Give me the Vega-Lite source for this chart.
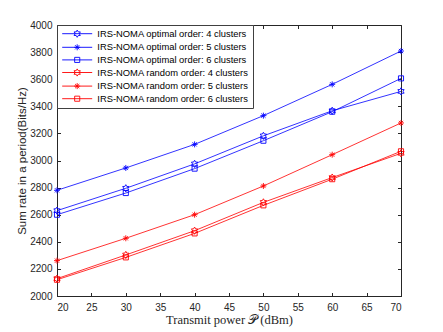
{
  "$schema": "https://vega.github.io/schema/vega-lite/v6.json",
  "width": 344,
  "height": 271,
  "autosize": {"type": "none"},
  "padding": {"left": 57, "top": 25, "right": 42, "bottom": 36},
  "background": "white",
  "config": {
    "view": {"stroke": "#262626", "strokeWidth": 1},
    "font": "Liberation Sans",
    "axis": {
      "grid": false,
      "domainColor": "#262626",
      "tickColor": "#262626",
      "labelColor": "#262626",
      "labelFont": "Liberation Sans",
      "labelFontSize": 10,
      "tickSize": -3.5
    },
    "legend": {
      "orient": "none", "legendX": 0, "legendY": 0,
      "fillColor": "white", "strokeColor": "#404040",
      "padding": 4,
      "labelFont": "Liberation Sans", "labelFontSize": 9.4, "labelColor": "black",
      "symbolSize": 36, "symbolStrokeWidth": 0.9,
      "symbolOffset": 11.5, "labelOffset": 15.4, "rowPadding": 1.6
    }
  },
  "data": {
    "values": [
      {"series": "IRS-NOMA optimal order: 4 clusters", "x": 20, "y": 2630},
      {"series": "IRS-NOMA optimal order: 4 clusters", "x": 30, "y": 2795},
      {"series": "IRS-NOMA optimal order: 4 clusters", "x": 40, "y": 2975},
      {"series": "IRS-NOMA optimal order: 4 clusters", "x": 50, "y": 3182},
      {"series": "IRS-NOMA optimal order: 4 clusters", "x": 60, "y": 3367},
      {"series": "IRS-NOMA optimal order: 4 clusters", "x": 70, "y": 3510},
      {"series": "IRS-NOMA optimal order: 5 clusters", "x": 20, "y": 2780},
      {"series": "IRS-NOMA optimal order: 5 clusters", "x": 30, "y": 2945},
      {"series": "IRS-NOMA optimal order: 5 clusters", "x": 40, "y": 3119},
      {"series": "IRS-NOMA optimal order: 5 clusters", "x": 50, "y": 3331},
      {"series": "IRS-NOMA optimal order: 5 clusters", "x": 60, "y": 3562},
      {"series": "IRS-NOMA optimal order: 5 clusters", "x": 70, "y": 3808},
      {"series": "IRS-NOMA optimal order: 6 clusters", "x": 20, "y": 2600},
      {"series": "IRS-NOMA optimal order: 6 clusters", "x": 30, "y": 2760},
      {"series": "IRS-NOMA optimal order: 6 clusters", "x": 40, "y": 2940},
      {"series": "IRS-NOMA optimal order: 6 clusters", "x": 50, "y": 3146},
      {"series": "IRS-NOMA optimal order: 6 clusters", "x": 60, "y": 3360},
      {"series": "IRS-NOMA optimal order: 6 clusters", "x": 70, "y": 3606},
      {"series": "IRS-NOMA random order: 4 clusters", "x": 20, "y": 2128},
      {"series": "IRS-NOMA random order: 4 clusters", "x": 30, "y": 2303},
      {"series": "IRS-NOMA random order: 4 clusters", "x": 40, "y": 2482},
      {"series": "IRS-NOMA random order: 4 clusters", "x": 50, "y": 2691},
      {"series": "IRS-NOMA random order: 4 clusters", "x": 60, "y": 2874},
      {"series": "IRS-NOMA random order: 4 clusters", "x": 70, "y": 3053},
      {"series": "IRS-NOMA random order: 5 clusters", "x": 20, "y": 2261},
      {"series": "IRS-NOMA random order: 5 clusters", "x": 30, "y": 2426},
      {"series": "IRS-NOMA random order: 5 clusters", "x": 40, "y": 2600},
      {"series": "IRS-NOMA random order: 5 clusters", "x": 50, "y": 2812},
      {"series": "IRS-NOMA random order: 5 clusters", "x": 60, "y": 3043},
      {"series": "IRS-NOMA random order: 5 clusters", "x": 70, "y": 3277},
      {"series": "IRS-NOMA random order: 6 clusters", "x": 20, "y": 2120},
      {"series": "IRS-NOMA random order: 6 clusters", "x": 30, "y": 2285},
      {"series": "IRS-NOMA random order: 6 clusters", "x": 40, "y": 2462},
      {"series": "IRS-NOMA random order: 6 clusters", "x": 50, "y": 2669},
      {"series": "IRS-NOMA random order: 6 clusters", "x": 60, "y": 2862},
      {"series": "IRS-NOMA random order: 6 clusters", "x": 70, "y": 3068}
    ]
  },
  "resolve": {"scale": {"shape": "independent", "color": "independent"}},
  "layer": [
    {
      "mark": {"type": "line", "strokeWidth": 0.8},
      "encoding": {
        "x": {
          "field": "x", "type": "quantitative",
          "scale": {"domain": [20, 70], "nice": false, "zero": false},
          "axis": {
            "orient": "bottom",
            "values": [20, 25, 30, 35, 40, 45, 50, 55, 60, 65, 70],
            "labelPadding": 10,
            "title": "Transmit power 𝒫 (dBm)",
            "titleFont": "Liberation Serif",
            "titleFontSize": 12.5,
            "titleFontWeight": "normal",
            "titleColor": "#262626",
            "titlePadding": 0.5
          }
        },
        "y": {
          "field": "y", "type": "quantitative",
          "scale": {"domain": [2000, 4000], "nice": false, "zero": false},
          "axis": {
            "orient": "left",
            "values": [2000, 2200, 2400, 2600, 2800, 3000, 3200, 3400, 3600, 3800, 4000],
            "format": "d",
            "labelPadding": 8.5,
            "title": "Sum rate in a period(Bits/Hz)",
            "titleFont": "Liberation Sans",
            "titleFontSize": 11.5,
            "titleFontWeight": "normal",
            "titleColor": "#262626",
            "titlePadding": 2.5
          }
        },
        "color": {
          "field": "series", "type": "nominal",
          "scale": {
            "domain": ["IRS-NOMA optimal order: 4 clusters", "IRS-NOMA optimal order: 5 clusters", "IRS-NOMA optimal order: 6 clusters", "IRS-NOMA random order: 4 clusters", "IRS-NOMA random order: 5 clusters", "IRS-NOMA random order: 6 clusters"],
            "range": ["#0000ff", "#0000ff", "#0000ff", "#ff0000", "#ff0000", "#ff0000"]
          },
          "legend": null
        }
      }
    },
    {
      "mark": {"type": "point", "filled": false, "strokeWidth": 0.9, "size": 36, "opacity": 1},
      "encoding": {
        "x": {
          "field": "x", "type": "quantitative",
          "axis": {"orient": "top", "values": [20, 25, 30, 35, 40, 45, 50, 55, 60, 65, 70], "labels": false, "domain": false, "title": null}
        },
        "y": {
          "field": "y", "type": "quantitative",
          "axis": {"orient": "right", "values": [2000, 2200, 2400, 2600, 2800, 3000, 3200, 3400, 3600, 3800, 4000], "labels": false, "domain": false, "title": null}
        },
        "color": {
          "field": "series", "type": "nominal",
          "scale": {
            "domain": ["IRS-NOMA optimal order: 4 clusters", "IRS-NOMA optimal order: 5 clusters", "IRS-NOMA optimal order: 6 clusters", "IRS-NOMA random order: 4 clusters", "IRS-NOMA random order: 5 clusters", "IRS-NOMA random order: 6 clusters"],
            "range": ["#0000ff", "#0000ff", "#0000ff", "#ff0000", "#ff0000", "#ff0000"]
          },
          "legend": null
        },
        "shape": {
          "field": "series", "type": "nominal",
          "scale": {
            "domain": ["IRS-NOMA optimal order: 4 clusters", "IRS-NOMA optimal order: 5 clusters", "IRS-NOMA optimal order: 6 clusters", "IRS-NOMA random order: 4 clusters", "IRS-NOMA random order: 5 clusters", "IRS-NOMA random order: 6 clusters"],
            "range": [
              "M0,-1.2L0.346,-0.6L1.039,-0.6L0.693,0L1.039,0.6L0.346,0.6L0,1.2L-0.346,0.6L-1.039,0.6L-0.693,0L-1.039,-0.6L-0.346,-0.6Z",
              "M-1,0L1,0M0,-1L0,1M-0.7,-0.7L0.7,0.7M-0.7,0.7L0.7,-0.7",
              "M-0.85,-0.85L0.85,-0.85L0.85,0.85L-0.85,0.85Z",
              "M0,-1.2L0.346,-0.6L1.039,-0.6L0.693,0L1.039,0.6L0.346,0.6L0,1.2L-0.346,0.6L-1.039,0.6L-0.693,0L-1.039,-0.6L-0.346,-0.6Z",
              "M-1,0L1,0M0,-1L0,1M-0.7,-0.7L0.7,0.7M-0.7,0.7L0.7,-0.7",
              "M-0.85,-0.85L0.85,-0.85L0.85,0.85L-0.85,0.85Z"
            ]
          },
          "legend": null
        }
      }
    },
    {
      "transform": [{"filter": "datum.x > 1000"}],
      "mark": {"type": "point", "filled": false, "strokeWidth": 0.9, "size": 36, "opacity": 1},
      "encoding": {
        "x": {"field": "x", "type": "quantitative", "axis": null},
        "y": {"field": "y", "type": "quantitative", "axis": null},
        "color": {
          "field": "series", "type": "nominal",
          "scale": {
            "domain": ["IRS-NOMA optimal order: 4 clusters", "IRS-NOMA optimal order: 5 clusters", "IRS-NOMA optimal order: 6 clusters", "IRS-NOMA random order: 4 clusters", "IRS-NOMA random order: 5 clusters", "IRS-NOMA random order: 6 clusters"],
            "range": ["#0000ff", "#0000ff", "#0000ff", "#ff0000", "#ff0000", "#ff0000"]
          },
          "legend": {"title": null}
        },
        "shape": {
          "field": "series", "type": "nominal",
          "scale": {
            "domain": ["IRS-NOMA optimal order: 4 clusters", "IRS-NOMA optimal order: 5 clusters", "IRS-NOMA optimal order: 6 clusters", "IRS-NOMA random order: 4 clusters", "IRS-NOMA random order: 5 clusters", "IRS-NOMA random order: 6 clusters"],
            "range": [
              "M-5,0L5,0M0,-1.2L0.346,-0.6L1.039,-0.6L0.693,0L1.039,0.6L0.346,0.6L0,1.2L-0.346,0.6L-1.039,0.6L-0.693,0L-1.039,-0.6L-0.346,-0.6Z",
              "M-5,0L5,0M-1,0L1,0M0,-1L0,1M-0.7,-0.7L0.7,0.7M-0.7,0.7L0.7,-0.7",
              "M-5,0L5,0M-0.85,-0.85L0.85,-0.85L0.85,0.85L-0.85,0.85Z",
              "M-5,0L5,0M0,-1.2L0.346,-0.6L1.039,-0.6L0.693,0L1.039,0.6L0.346,0.6L0,1.2L-0.346,0.6L-1.039,0.6L-0.693,0L-1.039,-0.6L-0.346,-0.6Z",
              "M-5,0L5,0M-1,0L1,0M0,-1L0,1M-0.7,-0.7L0.7,0.7M-0.7,0.7L0.7,-0.7",
              "M-5,0L5,0M-0.85,-0.85L0.85,-0.85L0.85,0.85L-0.85,0.85Z"
            ]
          },
          "legend": {"title": null}
        }
      }
    }
  ]
}
